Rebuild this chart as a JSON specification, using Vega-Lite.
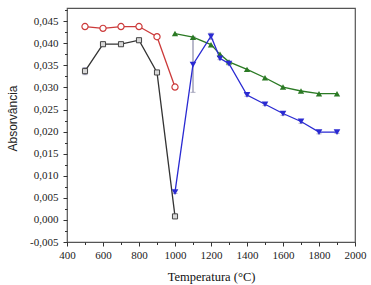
{
  "$schema": "https://vega.github.io/schema/vega-lite/v6.json",
  "autosize": "none",
  "width": 288,
  "height": 234,
  "padding": {"left": 67, "top": 8, "right": 16, "bottom": 43},
  "background": "white",
  "config": {
    "view": {"stroke": "#555", "strokeWidth": 1.2},
    "locale": {"number": {"decimal": ",", "thousands": ".", "grouping": [3], "currency": ["", ""], "minus": "-"}},
    "axis": {"grid": false, "domain": false, "tickColor": "#333", "labelFont": "Liberation Serif", "labelFontSize": 11, "labelColor": "#222", "labelFlush": false, "labelOverlap": false}
  },
  "data": {"values": [
    {"s": "a", "T": 500, "A": 0.0337, "err": 0.0008},
    {"s": "a", "T": 600, "A": 0.0398, "err": 0.0003},
    {"s": "a", "T": 700, "A": 0.0398, "err": 0.0003},
    {"s": "a", "T": 800, "A": 0.0407, "err": 0.0003},
    {"s": "a", "T": 900, "A": 0.0334, "err": 0.0004},
    {"s": "a", "T": 1000, "A": 0.0008, "err": 0.0003},
    {"s": "b", "T": 500, "A": 0.0438, "err": 0},
    {"s": "b", "T": 600, "A": 0.0434, "err": 0},
    {"s": "b", "T": 700, "A": 0.0438, "err": 0},
    {"s": "b", "T": 800, "A": 0.0438, "err": 0},
    {"s": "b", "T": 900, "A": 0.0415, "err": 0},
    {"s": "b", "T": 1000, "A": 0.0301, "err": 0},
    {"s": "c", "T": 1000, "A": 0.0422, "err": 0},
    {"s": "c", "T": 1100, "A": 0.0414, "err": 0},
    {"s": "c", "T": 1200, "A": 0.0397, "err": 0},
    {"s": "c", "T": 1250, "A": 0.0375, "err": 0},
    {"s": "c", "T": 1300, "A": 0.0358, "err": 0},
    {"s": "c", "T": 1400, "A": 0.0341, "err": 0},
    {"s": "c", "T": 1500, "A": 0.0322, "err": 0},
    {"s": "c", "T": 1600, "A": 0.0301, "err": 0},
    {"s": "c", "T": 1700, "A": 0.0292, "err": 0},
    {"s": "c", "T": 1800, "A": 0.0286, "err": 0},
    {"s": "c", "T": 1900, "A": 0.0286, "err": 0},
    {"s": "d", "T": 1000, "A": 0.0063, "err": 0.0003},
    {"s": "d", "T": 1100, "A": 0.0352, "err": 0.0063},
    {"s": "d", "T": 1200, "A": 0.0416, "err": 0.0007},
    {"s": "d", "T": 1250, "A": 0.0366, "err": 0.0003},
    {"s": "d", "T": 1300, "A": 0.0354, "err": 0.0003},
    {"s": "d", "T": 1400, "A": 0.0283, "err": 0.0003},
    {"s": "d", "T": 1500, "A": 0.0262, "err": 0.0003},
    {"s": "d", "T": 1600, "A": 0.0241, "err": 0.0004},
    {"s": "d", "T": 1700, "A": 0.0223, "err": 0.0004},
    {"s": "d", "T": 1800, "A": 0.0199, "err": 0.0004},
    {"s": "d", "T": 1900, "A": 0.0199, "err": 0.0003}
  ]},
  "encoding": {
    "x": {"field": "T", "type": "quantitative",
      "scale": {"domain": [400, 2000], "nice": false, "zero": false},
      "axis": {"title": "Temperatura (°C)", "titleFont": "Liberation Serif", "titleFontSize": 12.5, "titleFontWeight": "normal", "titleColor": "#111", "titlePadding": 10,
        "values": [400, 500, 600, 700, 800, 900, 1000, 1100, 1200, 1300, 1400, 1500, 1600, 1700, 1800, 1900, 2000],
        "format": "d",
        "labelExpr": "datum.value % 200 == 0 ? datum.label : ''",
        "tickSize": {"condition": {"test": "datum.value % 200 == 0", "value": 4}, "value": 2.5},
        "labelPadding": 3}},
    "y": {"field": "A", "type": "quantitative",
      "scale": {"domain": [-0.005, 0.048], "nice": false, "zero": false},
      "axis": {"title": "Absorvância", "titleFont": "Liberation Sans", "titleFontSize": 12, "titleFontWeight": "normal", "titleColor": "#222",
        "titleX": -55, "titleY": 110, "titleAlign": "center", "titleBaseline": "middle", "titleAngle": -90,
        "values": [-0.005, -0.0025, 0, 0.0025, 0.005, 0.0075, 0.01, 0.0125, 0.015, 0.0175, 0.02, 0.0225, 0.025, 0.0275, 0.03, 0.0325, 0.035, 0.0375, 0.04, 0.0425, 0.045, 0.0475],
        "format": ".3f",
        "labelExpr": "abs(datum.value/0.005 - round(datum.value/0.005)) < 0.01 ? datum.label : ''",
        "tickSize": {"condition": {"test": "abs(datum.value/0.005 - round(datum.value/0.005)) < 0.01", "value": 4}, "value": 2.5},
        "labelPadding": 5}}
  },
  "layer": [
    {"transform": [{"filter": "datum.err > 0"}],
     "mark": {"type": "errorbar", "ticks": {"size": 5, "color": "#8a8aa8"}, "rule": {"color": "#8a8aa8", "strokeWidth": 1.2}},
     "encoding": {"yError": {"field": "err"}, "detail": {"field": "s"}}},
    {"mark": {"type": "line", "strokeWidth": 1.3},
     "encoding": {"color": {"field": "s", "type": "nominal", "legend": null,
       "scale": {"domain": ["a", "b", "c", "d"], "range": ["#333333", "#cc3a3a", "#2b7a24", "#2a2ad2"]}}}},
    {"transform": [{"filter": "datum.s == 'a'"}],
     "mark": {"type": "point", "shape": "square", "size": 26, "filled": true, "fill": "#d8d8d8", "stroke": "#444", "strokeWidth": 1, "opacity": 1}},
    {"transform": [{"filter": "datum.s == 'b'"}],
     "mark": {"type": "point", "shape": "circle", "size": 38, "filled": true, "fill": "white", "stroke": "#cc3a3a", "strokeWidth": 1.2, "opacity": 1}},
    {"transform": [{"filter": "datum.s == 'c'"}],
     "mark": {"type": "point", "shape": "triangle-up", "size": 40, "filled": true, "fill": "#2b7a24", "opacity": 1}},
    {"transform": [{"filter": "datum.s == 'd'"}],
     "mark": {"type": "point", "shape": "triangle-down", "size": 44, "filled": true, "fill": "#2a2ad2", "opacity": 1}}
  ]
}
